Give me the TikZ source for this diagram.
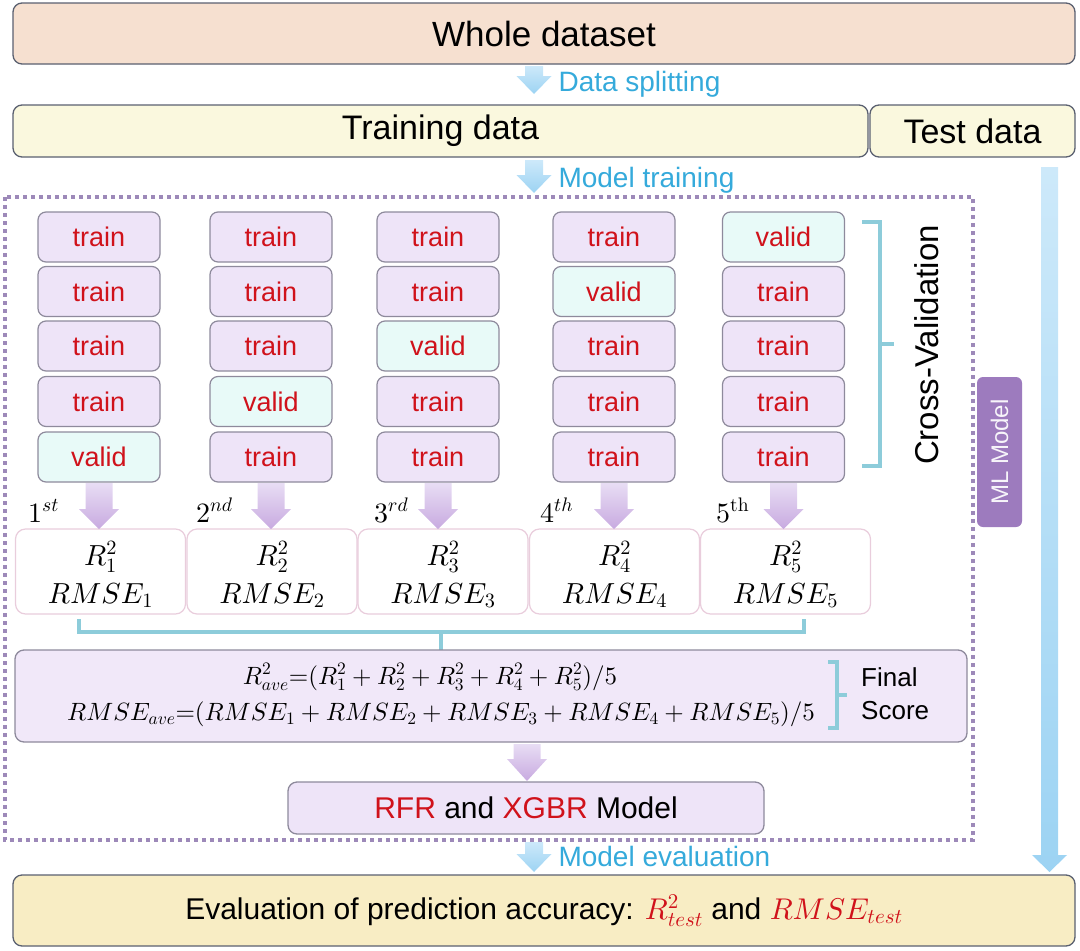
\documentclass[tikz,border=0pt]{standalone}
\usepackage[no-math]{fontspec}
\setmainfont{Liberation Sans}
\DeclareFontShape{OT1}{cmr}{m}{n}{<->cmr10}{}
\DeclareFontShape{OML}{cmm}{m}{it}{<->cmmi10}{}
\DeclareFontShape{OMS}{cmsy}{m}{n}{<->cmsy10}{}
\DeclareFontShape{OMX}{cmex}{m}{n}{<->cmex10}{}
\usetikzlibrary{calc}
\definecolor{peach}{HTML}{F6E0D0}
\definecolor{paleyel}{HTML}{FAF8DE}
\definecolor{evalyel}{HTML}{F8EDC4}
\definecolor{boxedge}{HTML}{5A6070}
\definecolor{celledge}{HTML}{8E8A9C}
\definecolor{lav}{HTML}{EEE4F8}
\definecolor{cyanfill}{HTML}{E8FAF8}
\definecolor{redtxt}{HTML}{D0121B}
\definecolor{bluetxt}{HTML}{35AADB}
\definecolor{brk}{HTML}{8DCCDA}
\definecolor{dotc}{HTML}{9D89B9}
\definecolor{mltag}{HTML}{9D7BBE}
\definecolor{pinkedge}{HTML}{E9CDDC}
\definecolor{arrowtop}{HTML}{CDE9FA}
\definecolor{arrowbot}{HTML}{9CD3F3}
\definecolor{parrowtop}{HTML}{E8DDF4}
\definecolor{parrowbot}{HTML}{C8AAE0}
\newcommand{\blockarrow}[6]{%
  \path (#1) coordinate (ba1) (#2) coordinate (ba2);
  \shade[#6] let \p1=(ba1), \p2=(ba2) in
    (\x1-#3,\y1) -- (\x1+#3,\y1) -- (\x1+#3,\y2+#5) -- (\x1+#4,\y2+#5) --
    (\x1,\y2) -- (\x1-#4,\y2+#5) -- (\x1-#3,\y2+#5) -- cycle;}
\tikzset{
  bigbox/.style={draw=boxedge, line width=1.3pt, rounded corners=9pt, inner sep=0pt},
  cell/.style={draw=celledge, line width=1.2pt, rounded corners=8pt, minimum width=122pt,
    minimum height=50pt, inner sep=0pt, text=redtxt, font=\fontsize{27}{30}\selectfont},
  trn/.style={cell, fill=lav},
  vld/.style={cell, fill=cyanfill},
  rbox/.style={draw=pinkedge, line width=1.2pt, rounded corners=10pt, fill=white,
    minimum width=170pt, minimum height=85pt, inner sep=0pt},
  rtxt/.style={font=\fontsize{29}{32}\selectfont, inner sep=0pt, anchor=base},
  steplabel/.style={text=bluetxt, font=\fontsize{28}{32}\selectfont, anchor=west},
  ordlabel/.style={anchor=base west, font=\fontsize{28}{32}\selectfont, inner sep=0pt},
  blueshade/.style={top color=arrowtop, bottom color=arrowbot},
  purpshade/.style={top color=parrowtop, bottom color=parrowbot},
  brace/.style={draw=brk, line width=4pt},
}
\begin{document}
\begin{tikzpicture}[x=1pt,y=-1pt]
\useasboundingbox (0,0) rectangle (1080,951);
% top boxes
\node[bigbox, fill=peach, minimum width=1062pt, minimum height=61pt,
  font=\fontsize{35}{40}\selectfont] (whole) at (544,33.5) {Whole dataset};
\node[bigbox, fill=paleyel, minimum width=855pt, minimum height=52pt,
  font=\fontsize{34}{40}\selectfont] (train) at (440.5,131) {Training data};
\node[bigbox, fill=paleyel, minimum width=205pt, minimum height=52pt,
  font=\fontsize{34}{40}\selectfont] (test) at (972.5,131) {Test data};
% step arrows
\coordinate (a1s) at (534,66); \coordinate (a1e) at (534,94);
\blockarrow{a1s}{a1e}{9pt}{17.5pt}{18pt}{blueshade}
\node[steplabel] (lsplit) at (555,84) {Data splitting};
\coordinate (a2s) at (534,160); \coordinate (a2e) at (534,193);
\blockarrow{a2s}{a2e}{9pt}{17.5pt}{18pt}{blueshade}
\node[steplabel] (ltrain) at (555,180) {Model training};
% dotted frame
\draw[dotc, line width=3.5pt, dash pattern=on 4pt off 4pt] (5,197) rectangle (973,840);
% long arrow from test data
\coordinate (lts) at (1049.5,167); \coordinate (lte) at (1049.5,872);
\blockarrow{lts}{lte}{8.5pt}{17.5pt}{17pt}{blueshade}
% ML Model tag
\node[fill=mltag, rounded corners=6pt, minimum width=45pt, minimum height=150pt, inner sep=0pt] (mltag) at (999.5,452) {};
\node[rotate=90, text=white!92!mltag, font=\fontsize{24}{28}\selectfont] (mltxt) at (mltag.center) {ML Model};
% cells
\foreach \c/\x in {1/99,2/271,3/438,4/614,5/783.5}{
  \foreach \r/\y in {1/237,2/291.5,3/346,4/401.5,5/457}{
    \pgfmathtruncatemacro{\v}{6-\c}
    \ifnum\r=\v
      \node[vld] (c\c r\r) at (\x,\y) {valid};
    \else
      \node[trn] (c\c r\r) at (\x,\y) {train};
    \fi
  }
}
% cross-validation bracket
\draw[brace] (862,222) -- (880,222) -- (880,466) -- (862,466);
\draw[brace] (880,344) -- (894,344);
\node[rotate=90, font=\fontsize{33}{38}\selectfont] (cvtxt) at (927,345) {Cross-Validation};
% R boxes
\foreach \i/\x in {1/100.5,2/272,3/443,4/614.5,5/785.5}{
  \node[rbox] (rb\i) at (\x,571.5) {};
  \node[rtxt] (rr\i) at (\x,565) {$R_{\i}^2$};
  \node[rtxt] (rm\i) at (\x,603) {$RMSE_{\i}$};
}
% ordinals
\node[ordlabel] (o1) at (28,522) {$1^{st}$};
\node[ordlabel] (o2) at (196,522) {$2^{nd}$};
\node[ordlabel] (o3) at (374,522) {$3^{rd}$};
\node[ordlabel] (o4) at (540,522) {$4^{th}$};
\node[ordlabel] (o5) at (716,522) {$5^{\mathrm{th}}$};
% purple arrows
\foreach \c/\x in {1/99,2/271,3/438,4/614,5/783.5}{
  \coordinate (ps\c) at (\x,483); \coordinate (pe\c) at (\x,529);
  \blockarrow{ps\c}{pe\c}{13.5pt}{20pt}{20pt}{purpshade}
}
% bracket under R boxes
\draw[brace] (79,619) -- (79,632) -- (804,632) -- (804,619);
\draw[brace] (441,632) -- (441,650);
% final score box
\node[bigbox, draw=celledge, fill=lav!85!white, minimum width=952pt, minimum height=92pt] (final) at (491,696) {};
\node[font=\fontsize{25}{30}\selectfont, inner sep=0pt] (f1) at (430,677)
  {$R^2_{ave}\mathord{=}(R_1^2+R_2^2+R_3^2+R_4^2+R_5^2)/5$};
\node[font=\fontsize{25}{30}\selectfont, inner sep=0pt] (f2) at (441,714)
  {$RMSE_{ave}\mathord{=}(RMSE_1+RMSE_2+RMSE_3+RMSE_4+RMSE_5)/5$};
\draw[brace] (828,662) -- (837,662) -- (837,728) -- (828,728);
\draw[brace] (837,695) -- (847,695);
\node[align=left, anchor=west, font=\fontsize{26}{33}\selectfont, inner sep=0pt] (fs) at (861,694) {Final\\Score};
% arrow to model
\coordinate (pfs) at (527,744); \coordinate (pfe) at (527,781);
\blockarrow{pfs}{pfe}{13.5pt}{20pt}{22pt}{purpshade}
\node[bigbox, draw=celledge, fill=lav, minimum width=476pt, minimum height=52pt,
  font=\fontsize{30}{36}\selectfont] (model) at (526,808)
  {\textcolor{redtxt}{RFR} and \textcolor{redtxt}{XGBR} Model};
% model evaluation arrow
\coordinate (a3s) at (534,842); \coordinate (a3e) at (534,872);
\blockarrow{a3s}{a3e}{9pt}{17.5pt}{18pt}{blueshade}
\node[steplabel] (leval) at (555,856) {Model evaluation};
% evaluation box
\node[bigbox, fill=evalyel, minimum width=1062pt, minimum height=71pt,
  font=\fontsize{30}{36}\selectfont] (evalb) at (544,910.5)
  {Evaluation of prediction accuracy: \textcolor{redtxt}{$R^2_{test}$} and \textcolor{redtxt}{$RMSE_{test}$}};
\end{tikzpicture}
\end{document}
